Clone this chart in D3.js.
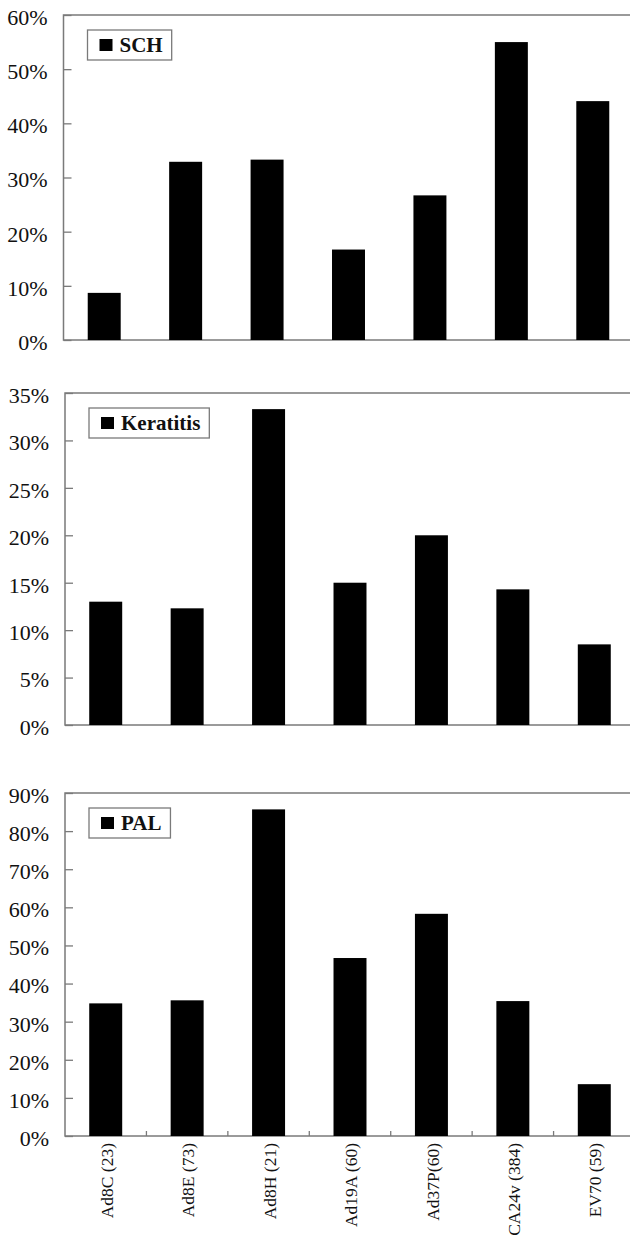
<!DOCTYPE html>
<html>
<head>
<meta charset="utf-8">
<script src="https://cdn.jsdelivr.net/npm/d3@7"></script>
<style>
  html, body { margin: 0; padding: 0; background: #fff; }
  svg { display: block; }
  text { font-family: "Liberation Serif", "Times New Roman", serif; fill: #111; }
</style>
</head>
<body>
<svg id="chart" width="630" height="1239"></svg>
<script>
// Virus strains (number of isolates)
const categories = ["Ad8C (23)", "Ad8E (73)", "Ad8H (21)", "Ad19A (60)", "Ad37P(60)", "CA24v (384)", "EV70 (59)"];

// Percentage of isolates per clinical sign
const schValues       = [8.7, 32.9, 33.3, 16.7, 26.7, 55.0, 44.1];
const keratitisValues = [13.0, 12.3, 33.3, 15.0, 20.0, 14.3, 8.5];
const palValues       = [34.8, 35.6, 85.7, 46.7, 58.3, 35.4, 13.6];

// Series names shown in each legend
const seriesNames = ["SCH", "Keratitis", "PAL"];

// Y-axis tick values per panel
const schTicks       = [0, 10, 20, 30, 40, 50, 60];
const keratitisTicks = [0, 5, 10, 15, 20, 25, 30, 35];
const palTicks       = [0, 10, 20, 30, 40, 50, 60, 70, 80, 90];

// Panel frames (pixels)
const layout = [
  { left: 63.5, right: 633.5, top: 15,  bottom: 340,  xLabels: false },
  { left: 65,   right: 635,   top: 393, bottom: 725,  xLabels: false },
  { left: 65,   right: 635,   top: 793, bottom: 1136, xLabels: true  }
];

const panels = [
  { name: seriesNames[0], values: schValues,       ticks: schTicks },
  { name: seriesNames[1], values: keratitisValues, ticks: keratitisTicks },
  { name: seriesNames[2], values: palValues,       ticks: palTicks }
];

const svg = d3.select("#chart");
const axisColor = "#7a7a7a";

panels.forEach((p, i) => {
  const L = layout[i];
  const g = svg.append("g");

  const x = d3.scaleBand()
    .domain(categories)
    .range([L.left, L.right])
    .paddingInner(0.595)
    .paddingOuter(0.2975);

  const yMax = p.ticks[p.ticks.length - 1];
  const y = d3.scaleLinear().domain([0, yMax]).range([L.bottom, L.top]);

  // Frame
  g.append("rect")
    .attr("x", L.left).attr("y", L.top)
    .attr("width", L.right - L.left).attr("height", L.bottom - L.top)
    .attr("fill", "none").attr("stroke", axisColor).attr("stroke-width", 1.5);

  // Bars
  g.selectAll("rect.bar")
    .data(p.values)
    .join("rect")
    .attr("class", "bar")
    .attr("x", (d, j) => x(categories[j]))
    .attr("width", x.bandwidth())
    .attr("y", d => y(d))
    .attr("height", d => y(0) - y(d))
    .attr("fill", "#000");

  // Y axis with inward ticks
  const yAxis = d3.axisRight(y)
    .tickValues(p.ticks)
    .tickSize(8)
    .tickFormat("");
  const ya = g.append("g")
    .attr("transform", `translate(${L.left},0)`)
    .call(yAxis);
  ya.select(".domain").remove();
  ya.selectAll(".tick line").attr("stroke", axisColor).attr("stroke-width", 1.3);

  g.selectAll("text.ytick")
    .data(p.ticks)
    .join("text")
    .attr("class", "ytick")
    .attr("x", L.left - 16)
    .attr("y", d => y(d))
    .attr("dy", "0.45em")
    .attr("text-anchor", "end")
    .style("font-size", "22px")
    .text(d => d + "%");

  // Category ticks and labels on the bottom panel
  if (L.xLabels) {
    const bounds = categories.slice(1).map(c => x(c) - x.step() * x.paddingInner() / 2);
    g.selectAll("line.xtick")
      .data(bounds)
      .join("line")
      .attr("class", "xtick")
      .attr("x1", d => d).attr("x2", d => d)
      .attr("y1", L.bottom).attr("y2", L.bottom - 5)
      .attr("stroke", axisColor).attr("stroke-width", 1.3);

    g.selectAll("text.xlab")
      .data(categories)
      .join("text")
      .attr("class", "xlab")
      .attr("transform", d => `translate(${x(d) + x.bandwidth() / 2 + 1},${L.bottom + 7}) rotate(-90)`)
      .attr("dy", "0.35em")
      .attr("text-anchor", "end")
      .style("font-size", "17.5px")
      .text(d => d);
  }

  // Legend
  const lg = g.append("g").attr("transform", `translate(${L.left + 24},${L.top + 15})`);
  const box = lg.append("rect")
    .attr("fill", "#fff").attr("stroke", axisColor).attr("stroke-width", 1.3);
  lg.append("rect")
    .attr("x", 12).attr("y", 9).attr("width", 13).attr("height", 12)
    .attr("fill", "#000");
  const t = lg.append("text")
    .attr("x", 32).attr("y", 15).attr("dy", "0.35em")
    .style("font-size", "21px").style("font-weight", "bold")
    .text(p.name);
  const tw = t.node().getComputedTextLength();
  box.attr("x", 0).attr("y", 0).attr("width", 32 + tw + 9).attr("height", 30);
});
</script>
</body>
</html>
